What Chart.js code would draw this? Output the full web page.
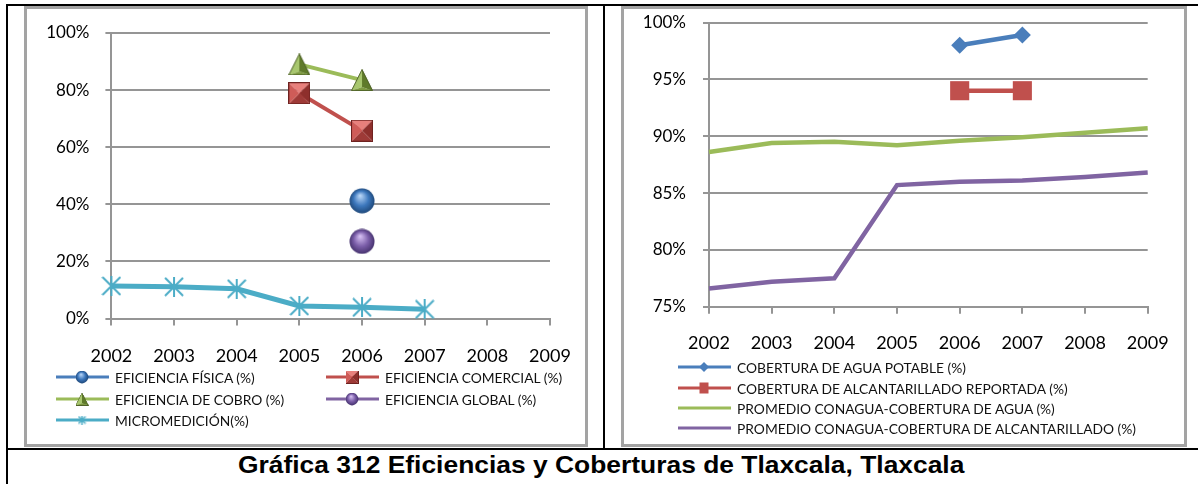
<!DOCTYPE html>
<html>
<head>
<meta charset="utf-8">
<script src="https://cdn.jsdelivr.net/npm/chart.js@4.4.1/dist/chart.umd.min.js"></script>
<style>
body { margin:0; width:1198px; height:484px; position:relative; background:#fff; overflow:hidden; font-family:Lato, sans-serif; }
.bar { position:absolute; background:#000; }
.box { position:absolute; border:3px solid #a3a3a3; box-sizing:border-box; }
canvas.chart { position:absolute; }
.leg { position:absolute; height:18px; display:flex; align-items:center; white-space:nowrap; font-size:13.8px; color:#111; }
.leg canvas { margin-right:5px; }
#title { position:absolute; left:6px; width:1192px; top:450px; height:30px; line-height:30px; text-align:center;
  font-family:"Liberation Sans", Arial, sans-serif; font-weight:bold; font-size:24px; color:#000;
  transform:scaleX(1.1); transform-origin:604px 50%; }
</style>
</head>
<body>
<div class="bar" style="left:6px;top:4px;width:1192px;height:2px"></div>
<div class="bar" style="left:6px;top:4px;width:2px;height:480px"></div>
<div class="bar" style="left:603px;top:4px;width:2px;height:446px"></div>
<div class="bar" style="left:6px;top:448px;width:1192px;height:2px"></div>
<div class="box" style="left:24px;top:6px;width:564px;height:441px"></div>
<div class="box" style="left:621px;top:6px;width:566px;height:441px"></div>
<canvas id="efChart" class="chart" width="558" height="435" style="left:27px;top:9px"></canvas>
<canvas id="cobChart" class="chart" width="560" height="435" style="left:624px;top:9px"></canvas>
<div id="efLegend"></div>
<div id="cobLegend"></div>
<div id="title">Gráfica 312 Eficiencias y Coberturas de Tlaxcala, Tlaxcala</div>
<script>
// datos
const years = ['2002', '2003', '2004', '2005', '2006', '2007', '2008', '2009'];

const eficienciaFisica    = [null, null, null, null, 41.2, null, null, null];
const eficienciaComercial = [null, null, null, 78.9, 65.8, null, null, null];
const eficienciaCobro     = [null, null, null, 89.0, 83.5, null, null, null];
const eficienciaGlobal    = [null, null, null, null, 27.0, null, null, null];
const micromedicion       = [11.4, 11.1, 10.4, 4.4, 3.9, 3.2, null, null];

const coberturaAgua     = [null, null, null, null, 98.0, 98.9, null, null];
const coberturaAlcant   = [null, null, null, null, 94.0, 94.0, null, null];
const promedioAgua      = [88.6, 89.4, 89.5, 89.2, 89.6, 89.9, 90.3, 90.7];
const promedioAlcant    = [76.6, 77.2, 77.5, 85.7, 86.0, 86.1, 86.4, 86.8];

const efLabels = ['EFICIENCIA FÍSICA (%)', 'EFICIENCIA COMERCIAL (%)', 'EFICIENCIA DE COBRO (%)', 'EFICIENCIA GLOBAL (%)', 'MICROMEDICIÓN(%)'];
const cobLabels = ['COBERTURA DE AGUA POTABLE (%)', 'COBERTURA DE ALCANTARILLADO REPORTADA (%)', 'PROMEDIO CONAGUA-COBERTURA DE AGUA (%)', 'PROMEDIO CONAGUA-COBERTURA DE ALCANTARILLADO (%)'];

const GRID = '#959595';
const BLUE = '#4a7ebb', RED = '#c0504d', GREEN = '#9bbb59', PURPLE = '#8064a2', CYAN = '#4bacc6';

// marcadores tipo excel
function sphere(d, light, mid, dark) {
    const c = document.createElement('canvas');
    c.width = c.height = d;
    const g = c.getContext('2d');
    const r = d / 2;
    const grd = g.createRadialGradient(r * 0.85, r * 0.6, r * 0.05, r, r, r);
    grd.addColorStop(0, light);
    grd.addColorStop(0.55, mid);
    grd.addColorStop(1, dark);
    g.fillStyle = grd;
    g.beginPath();
    g.arc(r, r, r - 0.5, 0, Math.PI * 2);
    g.fill();
    return c;
}
function pyramidSquare(s) {
    const c = document.createElement('canvas');
    c.width = c.height = s;
    const g = c.getContext('2d');
    const m = s / 2;
    const faces = [
        [[0, 0], [s, 0], '#e8807c'],
        [[s, 0], [s, s], '#8e2f2c'],
        [[s, s], [0, s], '#9e3a37'],
        [[0, s], [0, 0], '#cf5c58']
    ];
    faces.forEach(f => {
        g.fillStyle = f[2];
        g.beginPath();
        g.moveTo(f[0][0], f[0][1]);
        g.lineTo(f[1][0], f[1][1]);
        g.lineTo(m, m);
        g.closePath();
        g.fill();
    });
    g.strokeStyle = '#6e2220';
    g.lineWidth = 1;
    g.strokeRect(0.5, 0.5, s - 1, s - 1);
    return c;
}
function pyramidTriangle(s) {
    const c = document.createElement('canvas');
    c.width = c.height = s;
    const g = c.getContext('2d');
    const m = s / 2;
    g.fillStyle = '#a8c76e';
    g.beginPath(); g.moveTo(m, 0); g.lineTo(0, s); g.lineTo(m, s * 0.82); g.closePath(); g.fill();
    g.fillStyle = '#5f7a2a';
    g.beginPath(); g.moveTo(m, 0); g.lineTo(s, s); g.lineTo(m, s * 0.82); g.closePath(); g.fill();
    g.fillStyle = '#7d9a3f';
    g.beginPath(); g.moveTo(0, s); g.lineTo(m, s * 0.82); g.lineTo(s, s); g.closePath(); g.fill();
    g.strokeStyle = '#4f6228';
    g.lineWidth = 1;
    g.beginPath(); g.moveTo(m, 0.5); g.lineTo(0.5, s - 0.5); g.lineTo(s - 0.5, s - 0.5); g.closePath(); g.stroke();
    return c;
}
function asterisk(s, w) {
    const c = document.createElement('canvas');
    c.width = c.height = s;
    const g = c.getContext('2d');
    g.strokeStyle = CYAN;
    g.lineWidth = w;
    g.beginPath();
    g.moveTo(s / 2, 0); g.lineTo(s / 2, s);
    g.moveTo(1, 1); g.lineTo(s - 1, s - 1);
    g.moveTo(s - 1, 1); g.lineTo(1, s - 1);
    g.stroke();
    return c;
}

const blueBall = sphere(26, '#b5d3f5', '#3d78bd', '#1d4677');
const purpleBall = sphere(26, '#d3bdf0', '#7b5ea9', '#43306b');
const redBox = pyramidSquare(22);
const greenTri = pyramidTriangle(22);
const star = asterisk(20, 2);

function axisOptions(min, max, step, yWidth, xPad, yPad) {
    return {
        x: {
            grid: { drawOnChartArea: false, drawTicks: true, tickLength: 7, color: GRID, lineWidth: 2 },
            border: { display: true, color: GRID, width: 2 },
            ticks: { font: { family: 'Lato', size: 18 }, color: '#000', padding: xPad, maxRotation: 0, autoSkip: false },
            afterFit: s => { s.height = 60; s.paddingLeft = 0; s.paddingRight = 0; }
        },
        y: {
            min: min, max: max,
            grid: { color: GRID, lineWidth: 2, tickLength: 6 },
            border: { display: true, color: GRID, width: 2 },
            ticks: { stepSize: step, callback: v => v + '%', font: { family: 'Lato', size: 17 }, color: '#000', padding: yPad },
            afterFit: s => { s.width = yWidth; s.paddingTop = 0; s.paddingBottom = 0; }
        }
    };
}

function lineSet(label, data, color, width, style, radius) {
    return {
        label: label, data: data, borderColor: color, backgroundColor: color,
        borderWidth: width, pointStyle: style, pointRadius: radius, pointBorderWidth: 0,
        tension: 0, clip: false, spanGaps: false
    };
}

new Chart(document.getElementById('efChart').getContext('2d'), {
    type: 'line',
    data: {
        labels: years,
        datasets: [
            lineSet(efLabels[0], eficienciaFisica, BLUE, 4, blueBall, 13),
            lineSet(efLabels[1], eficienciaComercial, RED, 4, redBox, 11),
            lineSet(efLabels[2], eficienciaCobro, GREEN, 4, greenTri, 11),
            lineSet(efLabels[3], eficienciaGlobal, PURPLE, 4, purpleBall, 13),
            lineSet(efLabels[4], micromedicion, CYAN, 5, star, 10)
        ]
    },
    options: {
        responsive: false, animation: false, devicePixelRatio: 1,
        layout: { padding: { left: 0, top: 24, right: 35, bottom: 65.5 } },
        plugins: { legend: { display: false }, tooltip: { enabled: false } },
        scales: axisOptions(0, 100, 20, 84.4, 19.5, 16)
    }
});

new Chart(document.getElementById('cobChart').getContext('2d'), {
    type: 'line',
    data: {
        labels: years,
        datasets: [
            lineSet(cobLabels[0], coberturaAgua, BLUE, 4.5, 'rectRot', 8.5),
            lineSet(cobLabels[1], coberturaAlcant, RED, 4.5, 'rect', 13.5),
            lineSet(cobLabels[2], promedioAgua, GREEN, 4.5, false, 0),
            lineSet(cobLabels[3], promedioAlcant, PURPLE, 4.5, false, 0)
        ]
    },
    options: {
        responsive: false, animation: false, devicePixelRatio: 1,
        layout: { padding: { left: 0, top: 10.3, right: 36.3, bottom: 77.3 } },
        plugins: { legend: { display: false }, tooltip: { enabled: false } },
        scales: axisOptions(75, 100, 5, 85, 18.5, 17)
    }
});

// leyendas html
function legendItem(parent, x, y, text, color, drawMarker) {
    const div = document.createElement('div');
    div.className = 'leg';
    div.style.left = x + 'px';
    div.style.top = (y - 9) + 'px';
    const c = document.createElement('canvas');
    c.width = 54; c.height = 18;
    const g = c.getContext('2d');
    g.strokeStyle = color;
    g.lineWidth = 3;
    g.beginPath(); g.moveTo(0, 9); g.lineTo(53, 9); g.stroke();
    if (drawMarker) drawMarker(g, 26, 9);
    const span = document.createElement('span');
    span.textContent = text;
    div.appendChild(c);
    div.appendChild(span);
    parent.appendChild(div);
}
function img(im, s) {
    return (g, x, y) => g.drawImage(im, x - s / 2, y - s / 2, s, s);
}
const efLeg = document.getElementById('efLegend');
legendItem(efLeg, 56, 377, efLabels[0], BLUE, img(blueBall, 13));
legendItem(efLeg, 326, 377, efLabels[1], RED, img(redBox, 13));
legendItem(efLeg, 56, 399, efLabels[2], GREEN, img(greenTri, 13));
legendItem(efLeg, 326, 399, efLabels[3], PURPLE, img(purpleBall, 13));
legendItem(efLeg, 56, 420, efLabels[4], CYAN, img(asterisk(9, 1.5), 9));

const cobLeg = document.getElementById('cobLegend');
legendItem(cobLeg, 678, 367, cobLabels[0], BLUE, (g, x, y) => {
    g.fillStyle = BLUE; g.beginPath();
    g.moveTo(x - 5, y); g.lineTo(x, y - 5); g.lineTo(x + 5, y); g.lineTo(x, y + 5); g.closePath(); g.fill();
});
legendItem(cobLeg, 678, 388, cobLabels[1], RED, (g, x, y) => {
    g.fillStyle = RED; g.fillRect(x - 4.5, y - 5.5, 9, 11);
});
legendItem(cobLeg, 678, 408, cobLabels[2], GREEN, null);
legendItem(cobLeg, 678, 428, cobLabels[3], PURPLE, null);
</script>
</body>
</html>
